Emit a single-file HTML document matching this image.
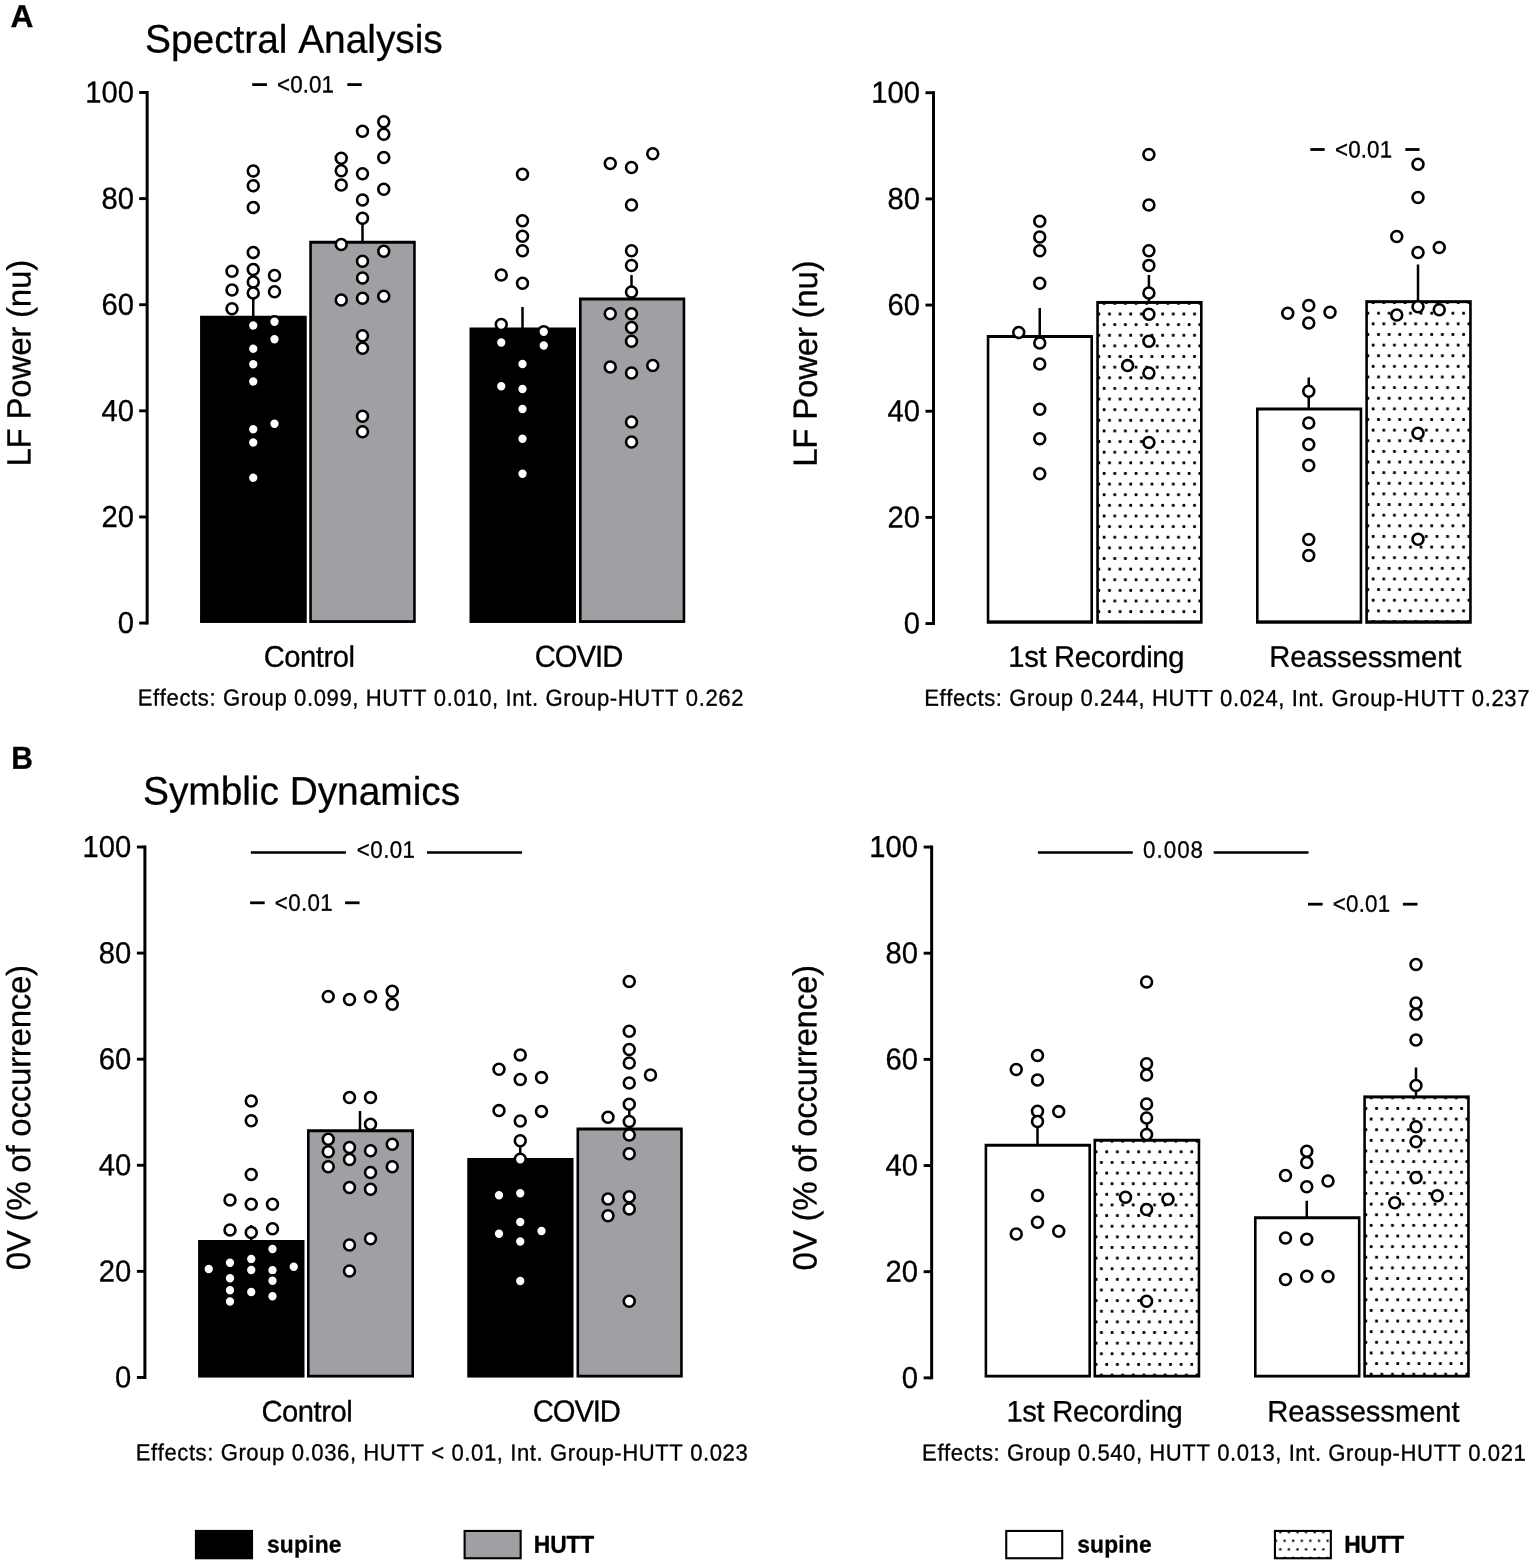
<!DOCTYPE html>
<html lang="en">
<head>
<meta charset="utf-8">
<title>Figure</title>
<style>html,body{margin:0;padding:0;background:#fff;overflow:hidden}svg{display:block}text{font-kerning:none;white-space:pre;text-rendering:geometricPrecision;stroke:#000;stroke-width:0.3px;stroke-linejoin:round}</style>
</head>
<body>
<svg width="1535" height="1565" viewBox="0 0 1535 1565" font-family='"Liberation Sans", Arial, Helvetica, sans-serif' fill="#000">
<defs><pattern id="p1" x="1096.25" y="300.95" width="10.63" height="21.26" patternUnits="userSpaceOnUse"><rect width="10.63" height="21.26" fill="#fff"/><rect x="6.50" y="1.05" width="2.8" height="2.8" rx="0.6" fill="#000"/><rect x="1.20" y="11.68" width="2.8" height="2.8" rx="0.6" fill="#000"/></pattern><pattern id="p2" x="1365.30" y="300.16" width="10.63" height="21.26" patternUnits="userSpaceOnUse"><rect width="10.63" height="21.26" fill="#fff"/><rect x="6.50" y="1.05" width="2.8" height="2.8" rx="0.6" fill="#000"/><rect x="1.20" y="11.68" width="2.8" height="2.8" rx="0.6" fill="#000"/></pattern><pattern id="p3" x="1093.50" y="1138.75" width="10.63" height="21.26" patternUnits="userSpaceOnUse"><rect width="10.63" height="21.26" fill="#fff"/><rect x="6.50" y="1.05" width="2.8" height="2.8" rx="0.6" fill="#000"/><rect x="1.20" y="11.68" width="2.8" height="2.8" rx="0.6" fill="#000"/></pattern><pattern id="p4" x="1363.30" y="1095.40" width="10.63" height="21.26" patternUnits="userSpaceOnUse"><rect width="10.63" height="21.26" fill="#fff"/><rect x="6.50" y="1.05" width="2.8" height="2.8" rx="0.6" fill="#000"/><rect x="1.20" y="11.68" width="2.8" height="2.8" rx="0.6" fill="#000"/></pattern><pattern id="p5" x="1273.90" y="1529.90" width="8.6" height="17.2" patternUnits="userSpaceOnUse"><rect width="8.6" height="17.2" fill="#fff"/><rect x="5.25" y="1.15" width="2.3" height="2.3" rx="0.6" fill="#000"/><rect x="0.95" y="9.75" width="2.3" height="2.3" rx="0.6" fill="#000"/></pattern></defs>
<text transform="translate(10.42,26.99) rotate(0.03) scale(1.04,1.041)" font-size="30.5" font-weight="bold">A</text>
<text transform="translate(11.14,768.80) rotate(0.03) scale(0.9838,1.041)" font-size="30.5" font-weight="bold">B</text>
<text transform="translate(145.05,52.62) rotate(0.03) scale(1,1.02)" font-size="38.9" letter-spacing="-0.035">Spectral Analysis</text>
<text transform="translate(142.98,804.52) rotate(0.03) scale(1,1.02)" font-size="38.9" letter-spacing="-0.037">Symblic Dynamics</text>
<line x1="147.15" y1="91.05" x2="147.15" y2="624.51" stroke="#000" stroke-width="3.0"/>
<line x1="139.15" y1="92.50" x2="147.15" y2="92.50" stroke="#000" stroke-width="2.9"/>
<text transform="translate(85.24,102.54) rotate(0.03) scale(1,1.041)" font-size="29.19">100</text>
<line x1="139.15" y1="198.61" x2="147.15" y2="198.61" stroke="#000" stroke-width="2.9"/>
<text transform="translate(101.47,208.65) rotate(0.03) scale(1,1.041)" font-size="29.19">80</text>
<line x1="139.15" y1="304.72" x2="147.15" y2="304.72" stroke="#000" stroke-width="2.9"/>
<text transform="translate(101.47,314.77) rotate(0.03) scale(1,1.041)" font-size="29.19">60</text>
<line x1="139.15" y1="410.84" x2="147.15" y2="410.84" stroke="#000" stroke-width="2.9"/>
<text transform="translate(101.47,420.88) rotate(0.03) scale(1,1.041)" font-size="29.19">40</text>
<line x1="139.15" y1="516.95" x2="147.15" y2="516.95" stroke="#000" stroke-width="2.9"/>
<text transform="translate(101.47,526.99) rotate(0.03) scale(1,1.041)" font-size="29.19">20</text>
<line x1="139.15" y1="623.06" x2="147.15" y2="623.06" stroke="#000" stroke-width="2.9"/>
<text transform="translate(117.71,633.11) rotate(0.03) scale(1,1.041)" font-size="29.19">0</text>
<text transform="translate(30.45,466.56) rotate(-89.97) scale(1,1.02)" font-size="33.0" letter-spacing="-0.196">LF Power (nu)</text>
<rect x="200.06" y="315.75" width="106.69" height="307.21" fill="#000"/>
<rect x="309.25" y="240.75" width="106.50" height="382.21" fill="#000"/>
<rect x="311.85" y="243.75" width="101.30" height="376.41" fill="#a0a0a4"/>
<rect x="469.50" y="327.50" width="106.50" height="295.46" fill="#000"/>
<rect x="579.00" y="297.50" width="106.25" height="325.46" fill="#000"/>
<rect x="581.60" y="300.50" width="101.05" height="319.66" fill="#a0a0a4"/>
<line x1="253.25" y1="296.00" x2="253.25" y2="317.00" stroke="#000" stroke-width="2.5"/>
<line x1="362.50" y1="222.00" x2="362.50" y2="242.00" stroke="#000" stroke-width="2.5"/>
<line x1="522.50" y1="307.00" x2="522.50" y2="329.00" stroke="#000" stroke-width="2.5"/>
<line x1="631.50" y1="275.00" x2="631.50" y2="299.00" stroke="#000" stroke-width="2.5"/>
<g fill="#fff" stroke="#000" stroke-width="2.6"><circle cx="253.25" cy="171.00" r="5.45"/><circle cx="253.25" cy="185.75" r="5.45"/><circle cx="253.25" cy="207.50" r="5.45"/><circle cx="253.25" cy="252.50" r="5.45"/><circle cx="253.25" cy="269.50" r="5.45"/><circle cx="253.25" cy="282.00" r="5.45"/><circle cx="253.25" cy="293.00" r="5.45"/><circle cx="253.25" cy="325.50" r="5.45"/><circle cx="253.25" cy="348.75" r="5.45"/><circle cx="253.25" cy="364.25" r="5.45"/><circle cx="253.25" cy="381.50" r="5.45"/><circle cx="253.25" cy="429.25" r="5.45"/><circle cx="253.25" cy="442.50" r="5.45"/><circle cx="253.25" cy="477.75" r="5.45"/><circle cx="232.00" cy="271.25" r="5.45"/><circle cx="232.00" cy="290.00" r="5.45"/><circle cx="232.00" cy="308.75" r="5.45"/><circle cx="274.50" cy="275.50" r="5.45"/><circle cx="274.50" cy="291.75" r="5.45"/><circle cx="274.50" cy="321.75" r="5.45"/><circle cx="274.50" cy="339.25" r="5.45"/><circle cx="274.50" cy="423.75" r="5.45"/><circle cx="362.50" cy="131.25" r="5.45"/><circle cx="362.50" cy="173.75" r="5.45"/><circle cx="362.50" cy="200.00" r="5.45"/><circle cx="362.50" cy="218.25" r="5.45"/><circle cx="362.50" cy="261.25" r="5.45"/><circle cx="362.50" cy="278.00" r="5.45"/><circle cx="362.50" cy="298.25" r="5.45"/><circle cx="362.50" cy="335.75" r="5.45"/><circle cx="362.50" cy="348.25" r="5.45"/><circle cx="362.50" cy="416.25" r="5.45"/><circle cx="362.50" cy="431.75" r="5.45"/><circle cx="341.25" cy="158.25" r="5.45"/><circle cx="341.25" cy="170.75" r="5.45"/><circle cx="341.25" cy="185.00" r="5.45"/><circle cx="341.25" cy="244.50" r="5.45"/><circle cx="341.25" cy="300.00" r="5.45"/><circle cx="383.75" cy="121.75" r="5.45"/><circle cx="383.75" cy="134.25" r="5.45"/><circle cx="383.75" cy="157.50" r="5.45"/><circle cx="383.75" cy="189.25" r="5.45"/><circle cx="383.75" cy="251.25" r="5.45"/><circle cx="383.75" cy="296.25" r="5.45"/><circle cx="522.50" cy="174.25" r="5.45"/><circle cx="522.50" cy="220.75" r="5.45"/><circle cx="522.50" cy="236.25" r="5.45"/><circle cx="522.50" cy="250.75" r="5.45"/><circle cx="522.50" cy="283.25" r="5.45"/><circle cx="522.50" cy="364.00" r="5.45"/><circle cx="522.50" cy="389.00" r="5.45"/><circle cx="522.50" cy="409.00" r="5.45"/><circle cx="522.50" cy="438.75" r="5.45"/><circle cx="522.50" cy="473.75" r="5.45"/><circle cx="501.25" cy="275.00" r="5.45"/><circle cx="501.25" cy="324.50" r="5.45"/><circle cx="501.25" cy="342.50" r="5.45"/><circle cx="501.25" cy="386.25" r="5.45"/><circle cx="543.75" cy="331.75" r="5.45"/><circle cx="543.75" cy="345.50" r="5.45"/><circle cx="631.50" cy="167.50" r="5.45"/><circle cx="631.50" cy="205.00" r="5.45"/><circle cx="631.50" cy="250.75" r="5.45"/><circle cx="631.50" cy="265.50" r="5.45"/><circle cx="631.50" cy="292.00" r="5.45"/><circle cx="631.50" cy="313.75" r="5.45"/><circle cx="631.50" cy="327.50" r="5.45"/><circle cx="631.50" cy="341.25" r="5.45"/><circle cx="631.50" cy="373.00" r="5.45"/><circle cx="631.50" cy="422.00" r="5.45"/><circle cx="631.50" cy="442.00" r="5.45"/><circle cx="610.25" cy="163.50" r="5.45"/><circle cx="610.25" cy="313.75" r="5.45"/><circle cx="610.25" cy="367.00" r="5.45"/><circle cx="652.75" cy="153.75" r="5.45"/><circle cx="652.75" cy="365.50" r="5.45"/></g>
<line x1="252.20" y1="84.60" x2="266.90" y2="84.60" stroke="#000" stroke-width="2.8"/>
<line x1="347.36" y1="84.60" x2="361.74" y2="84.60" stroke="#000" stroke-width="2.8"/>
<text transform="translate(277.09,92.39) rotate(0.03) scale(1,1.06)" font-size="22.3" letter-spacing="0.126">&lt;0.01</text>
<text transform="translate(263.65,666.68) rotate(0.03) scale(1,1.02)" font-size="29.19" letter-spacing="-0.457">Control</text>
<text transform="translate(534.67,666.68) rotate(0.03) scale(1,1.041)" font-size="29.19" letter-spacing="-0.966">COVID</text>
<text transform="translate(137.74,705.54) rotate(0.03) scale(1,1.05)" font-size="22.1" letter-spacing="0.598">Effects: Group 0.099, HUTT 0.010, Int. Group-HUTT 0.262</text>
<line x1="933.50" y1="91.28" x2="933.50" y2="625.00" stroke="#000" stroke-width="3.0"/>
<line x1="925.50" y1="92.73" x2="933.50" y2="92.73" stroke="#000" stroke-width="2.9"/>
<text transform="translate(871.19,102.77) rotate(0.03) scale(1,1.041)" font-size="29.19">100</text>
<line x1="925.50" y1="198.89" x2="933.50" y2="198.89" stroke="#000" stroke-width="2.9"/>
<text transform="translate(887.42,208.94) rotate(0.03) scale(1,1.041)" font-size="29.19">80</text>
<line x1="925.50" y1="305.06" x2="933.50" y2="305.06" stroke="#000" stroke-width="2.9"/>
<text transform="translate(887.42,315.10) rotate(0.03) scale(1,1.041)" font-size="29.19">60</text>
<line x1="925.50" y1="411.22" x2="933.50" y2="411.22" stroke="#000" stroke-width="2.9"/>
<text transform="translate(887.42,421.26) rotate(0.03) scale(1,1.041)" font-size="29.19">40</text>
<line x1="925.50" y1="517.39" x2="933.50" y2="517.39" stroke="#000" stroke-width="2.9"/>
<text transform="translate(887.42,527.43) rotate(0.03) scale(1,1.041)" font-size="29.19">20</text>
<line x1="925.50" y1="623.55" x2="933.50" y2="623.55" stroke="#000" stroke-width="2.9"/>
<text transform="translate(903.66,633.60) rotate(0.03) scale(1,1.041)" font-size="29.19">0</text>
<text transform="translate(816.85,466.76) rotate(-89.97) scale(1,1.02)" font-size="33.0" letter-spacing="-0.226">LF Power (nu)</text>
<rect x="986.75" y="335.00" width="106.25" height="288.75" fill="#000"/>
<rect x="989.35" y="338.00" width="101.05" height="282.35" fill="#fff"/>
<rect x="1096.25" y="300.95" width="106.35" height="322.80" fill="#000"/>
<rect x="1098.85" y="303.95" width="101.15" height="316.40" fill="url(#p1)"/>
<rect x="1256.00" y="407.50" width="106.25" height="216.25" fill="#000"/>
<rect x="1258.60" y="410.50" width="101.05" height="209.85" fill="#fff"/>
<rect x="1365.30" y="300.16" width="106.45" height="323.59" fill="#000"/>
<rect x="1367.90" y="303.16" width="101.25" height="317.19" fill="url(#p2)"/>
<line x1="1039.75" y1="308.00" x2="1039.75" y2="336.00" stroke="#000" stroke-width="2.5"/>
<line x1="1148.90" y1="275.00" x2="1148.90" y2="302.00" stroke="#000" stroke-width="2.5"/>
<line x1="1308.75" y1="377.50" x2="1308.75" y2="409.00" stroke="#000" stroke-width="2.5"/>
<line x1="1418.00" y1="264.50" x2="1418.00" y2="301.00" stroke="#000" stroke-width="2.5"/>
<g fill="#fff" stroke="#000" stroke-width="2.6"><circle cx="1039.75" cy="221.25" r="5.45"/><circle cx="1039.75" cy="237.00" r="5.45"/><circle cx="1039.75" cy="250.75" r="5.45"/><circle cx="1039.75" cy="283.25" r="5.45"/><circle cx="1039.75" cy="343.00" r="5.45"/><circle cx="1039.75" cy="364.00" r="5.45"/><circle cx="1039.75" cy="409.25" r="5.45"/><circle cx="1039.75" cy="438.75" r="5.45"/><circle cx="1039.75" cy="473.75" r="5.45"/><circle cx="1018.75" cy="332.50" r="5.45"/><circle cx="1148.90" cy="154.50" r="5.45"/><circle cx="1148.90" cy="205.00" r="5.45"/><circle cx="1148.90" cy="250.75" r="5.45"/><circle cx="1148.90" cy="265.50" r="5.45"/><circle cx="1148.90" cy="293.00" r="5.45"/><circle cx="1148.90" cy="314.24" r="5.45"/><circle cx="1148.90" cy="341.25" r="5.45"/><circle cx="1148.90" cy="373.00" r="5.45"/><circle cx="1148.90" cy="442.50" r="5.45"/><circle cx="1127.60" cy="365.60" r="5.45"/><circle cx="1308.75" cy="305.50" r="5.45"/><circle cx="1308.75" cy="323.00" r="5.45"/><circle cx="1308.75" cy="391.25" r="5.45"/><circle cx="1308.75" cy="423.00" r="5.45"/><circle cx="1308.75" cy="444.50" r="5.45"/><circle cx="1308.75" cy="465.50" r="5.45"/><circle cx="1308.75" cy="539.50" r="5.45"/><circle cx="1308.75" cy="555.50" r="5.45"/><circle cx="1287.75" cy="313.25" r="5.45"/><circle cx="1330.00" cy="312.25" r="5.45"/><circle cx="1418.00" cy="164.25" r="5.45"/><circle cx="1418.00" cy="197.50" r="5.45"/><circle cx="1418.00" cy="252.50" r="5.45"/><circle cx="1418.00" cy="306.75" r="5.45"/><circle cx="1418.00" cy="433.25" r="5.45"/><circle cx="1418.00" cy="539.25" r="5.45"/><circle cx="1396.75" cy="236.50" r="5.45"/><circle cx="1396.75" cy="315.00" r="5.45"/><circle cx="1439.25" cy="247.50" r="5.45"/><circle cx="1439.25" cy="309.75" r="5.45"/></g>
<line x1="1310.30" y1="149.50" x2="1324.70" y2="149.50" stroke="#000" stroke-width="2.8"/>
<line x1="1405.30" y1="149.50" x2="1419.56" y2="149.50" stroke="#000" stroke-width="2.8"/>
<text transform="translate(1335.01,157.39) rotate(0.03) scale(1,1.06)" font-size="22.3" letter-spacing="0.151">&lt;0.01</text>
<text transform="translate(1008.33,666.85) rotate(0.03) scale(1,1.02)" font-size="29.19" letter-spacing="-0.325">1st Recording</text>
<text transform="translate(1269.26,666.85) rotate(0.03) scale(1,1.02)" font-size="29.19" letter-spacing="-0.082">Reassessment</text>
<text transform="translate(924.18,705.74) rotate(0.03) scale(1,1.05)" font-size="22.1" letter-spacing="0.590">Effects: Group 0.244, HUTT 0.024, Int. Group-HUTT 0.237</text>
<line x1="144.90" y1="845.55" x2="144.90" y2="1378.90" stroke="#000" stroke-width="3.0"/>
<line x1="136.90" y1="847.00" x2="144.90" y2="847.00" stroke="#000" stroke-width="2.9"/>
<text transform="translate(82.49,857.04) rotate(0.03) scale(1,1.041)" font-size="29.19">100</text>
<line x1="136.90" y1="953.09" x2="144.90" y2="953.09" stroke="#000" stroke-width="2.9"/>
<text transform="translate(98.72,963.13) rotate(0.03) scale(1,1.041)" font-size="29.19">80</text>
<line x1="136.90" y1="1059.18" x2="144.90" y2="1059.18" stroke="#000" stroke-width="2.9"/>
<text transform="translate(98.72,1069.22) rotate(0.03) scale(1,1.041)" font-size="29.19">60</text>
<line x1="136.90" y1="1165.27" x2="144.90" y2="1165.27" stroke="#000" stroke-width="2.9"/>
<text transform="translate(98.72,1175.31) rotate(0.03) scale(1,1.041)" font-size="29.19">40</text>
<line x1="136.90" y1="1271.36" x2="144.90" y2="1271.36" stroke="#000" stroke-width="2.9"/>
<text transform="translate(98.72,1281.40) rotate(0.03) scale(1,1.041)" font-size="29.19">20</text>
<line x1="136.90" y1="1377.45" x2="144.90" y2="1377.45" stroke="#000" stroke-width="2.9"/>
<text transform="translate(114.96,1387.50) rotate(0.03) scale(1,1.041)" font-size="29.19">0</text>
<text transform="translate(30.12,1270.24) rotate(-89.97) scale(1,1.02)" font-size="33.0" letter-spacing="-0.243">0V (% of occurrence)</text>
<rect x="198.10" y="1240.00" width="106.40" height="137.55" fill="#000"/>
<rect x="307.00" y="1129.25" width="107.00" height="248.30" fill="#000"/>
<rect x="309.60" y="1132.25" width="101.80" height="242.50" fill="#a0a0a4"/>
<rect x="467.25" y="1158.00" width="106.25" height="219.55" fill="#000"/>
<rect x="576.50" y="1127.50" width="106.25" height="250.05" fill="#000"/>
<rect x="579.10" y="1130.50" width="101.05" height="244.25" fill="#a0a0a4"/>
<line x1="251.25" y1="1225.00" x2="251.25" y2="1241.00" stroke="#000" stroke-width="2.5"/>
<line x1="360.00" y1="1111.00" x2="360.00" y2="1131.00" stroke="#000" stroke-width="2.5"/>
<line x1="520.25" y1="1145.00" x2="520.25" y2="1160.00" stroke="#000" stroke-width="2.5"/>
<line x1="629.25" y1="1110.00" x2="629.25" y2="1129.00" stroke="#000" stroke-width="2.5"/>
<g fill="#fff" stroke="#000" stroke-width="2.6"><circle cx="251.25" cy="1101.00" r="5.45"/><circle cx="251.25" cy="1120.75" r="5.45"/><circle cx="251.25" cy="1174.50" r="5.45"/><circle cx="251.25" cy="1204.25" r="5.45"/><circle cx="251.25" cy="1232.50" r="5.45"/><circle cx="251.25" cy="1259.00" r="5.45"/><circle cx="251.25" cy="1270.00" r="5.45"/><circle cx="251.25" cy="1292.00" r="5.45"/><circle cx="230.00" cy="1200.00" r="5.45"/><circle cx="230.00" cy="1230.00" r="5.45"/><circle cx="230.00" cy="1262.75" r="5.45"/><circle cx="230.00" cy="1278.25" r="5.45"/><circle cx="230.00" cy="1290.25" r="5.45"/><circle cx="230.00" cy="1301.50" r="5.45"/><circle cx="272.50" cy="1204.25" r="5.45"/><circle cx="272.50" cy="1228.75" r="5.45"/><circle cx="272.50" cy="1249.00" r="5.45"/><circle cx="272.50" cy="1270.25" r="5.45"/><circle cx="272.50" cy="1280.75" r="5.45"/><circle cx="272.50" cy="1296.25" r="5.45"/><circle cx="208.75" cy="1269.00" r="5.45"/><circle cx="293.75" cy="1266.75" r="5.45"/><circle cx="349.50" cy="999.50" r="5.45"/><circle cx="349.50" cy="1097.50" r="5.45"/><circle cx="349.50" cy="1147.50" r="5.45"/><circle cx="349.50" cy="1159.50" r="5.45"/><circle cx="349.50" cy="1187.50" r="5.45"/><circle cx="349.50" cy="1245.00" r="5.45"/><circle cx="349.50" cy="1271.00" r="5.45"/><circle cx="328.25" cy="996.50" r="5.45"/><circle cx="328.25" cy="1139.25" r="5.45"/><circle cx="328.25" cy="1151.75" r="5.45"/><circle cx="328.25" cy="1166.75" r="5.45"/><circle cx="370.50" cy="996.75" r="5.45"/><circle cx="370.50" cy="1097.50" r="5.45"/><circle cx="370.50" cy="1124.25" r="5.45"/><circle cx="370.50" cy="1150.75" r="5.45"/><circle cx="370.50" cy="1172.50" r="5.45"/><circle cx="370.50" cy="1189.25" r="5.45"/><circle cx="370.50" cy="1238.75" r="5.45"/><circle cx="392.25" cy="991.25" r="5.45"/><circle cx="392.25" cy="1004.25" r="5.45"/><circle cx="392.25" cy="1144.25" r="5.45"/><circle cx="392.25" cy="1166.75" r="5.45"/><circle cx="520.25" cy="1055.00" r="5.45"/><circle cx="520.25" cy="1079.50" r="5.45"/><circle cx="520.25" cy="1121.00" r="5.45"/><circle cx="520.25" cy="1140.75" r="5.45"/><circle cx="520.25" cy="1159.25" r="5.45"/><circle cx="520.25" cy="1193.25" r="5.45"/><circle cx="520.25" cy="1222.00" r="5.45"/><circle cx="520.25" cy="1241.50" r="5.45"/><circle cx="520.25" cy="1281.00" r="5.45"/><circle cx="499.00" cy="1069.25" r="5.45"/><circle cx="499.00" cy="1110.60" r="5.45"/><circle cx="499.00" cy="1195.25" r="5.45"/><circle cx="499.00" cy="1233.75" r="5.45"/><circle cx="541.50" cy="1077.50" r="5.45"/><circle cx="541.50" cy="1111.40" r="5.45"/><circle cx="541.50" cy="1231.00" r="5.45"/><circle cx="629.25" cy="981.50" r="5.45"/><circle cx="629.25" cy="1031.25" r="5.45"/><circle cx="629.25" cy="1049.50" r="5.45"/><circle cx="629.25" cy="1063.00" r="5.45"/><circle cx="629.25" cy="1083.00" r="5.45"/><circle cx="629.25" cy="1104.25" r="5.45"/><circle cx="629.25" cy="1121.50" r="5.45"/><circle cx="629.25" cy="1135.00" r="5.45"/><circle cx="629.25" cy="1153.75" r="5.45"/><circle cx="629.25" cy="1196.75" r="5.45"/><circle cx="629.25" cy="1209.00" r="5.45"/><circle cx="629.25" cy="1301.25" r="5.45"/><circle cx="650.50" cy="1075.00" r="5.45"/><circle cx="608.00" cy="1117.25" r="5.45"/><circle cx="608.00" cy="1199.00" r="5.45"/><circle cx="608.00" cy="1215.75" r="5.45"/></g>
<line x1="250.84" y1="852.50" x2="345.90" y2="852.50" stroke="#000" stroke-width="2.7"/>
<line x1="426.99" y1="852.50" x2="522.05" y2="852.50" stroke="#000" stroke-width="2.7"/>
<text transform="translate(356.83,857.79) rotate(0.03) scale(1,1.06)" font-size="22.3" letter-spacing="0.438">&lt;0.01</text>
<line x1="250.10" y1="902.80" x2="264.70" y2="902.80" stroke="#000" stroke-width="2.8"/>
<line x1="345.07" y1="902.80" x2="359.55" y2="902.80" stroke="#000" stroke-width="2.8"/>
<text transform="translate(274.80,910.69) rotate(0.03) scale(1,1.06)" font-size="22.3" letter-spacing="0.328">&lt;0.01</text>
<text transform="translate(261.44,1421.38) rotate(0.03) scale(1,1.02)" font-size="29.19" letter-spacing="-0.459">Control</text>
<text transform="translate(532.74,1421.38) rotate(0.03) scale(1,1.041)" font-size="29.19" letter-spacing="-1.066">COVID</text>
<text transform="translate(135.64,1460.24) rotate(0.03) scale(1,1.05)" font-size="22.1" letter-spacing="0.580">Effects: Group 0.036, HUTT &lt; 0.01, Int. Group-HUTT 0.023</text>
<line x1="931.65" y1="845.60" x2="931.65" y2="1379.30" stroke="#000" stroke-width="3.0"/>
<line x1="923.65" y1="847.05" x2="931.65" y2="847.05" stroke="#000" stroke-width="2.9"/>
<text transform="translate(869.34,857.09) rotate(0.03) scale(1,1.041)" font-size="29.19">100</text>
<line x1="923.65" y1="953.21" x2="931.65" y2="953.21" stroke="#000" stroke-width="2.9"/>
<text transform="translate(885.57,963.25) rotate(0.03) scale(1,1.041)" font-size="29.19">80</text>
<line x1="923.65" y1="1059.37" x2="931.65" y2="1059.37" stroke="#000" stroke-width="2.9"/>
<text transform="translate(885.57,1069.41) rotate(0.03) scale(1,1.041)" font-size="29.19">60</text>
<line x1="923.65" y1="1165.53" x2="931.65" y2="1165.53" stroke="#000" stroke-width="2.9"/>
<text transform="translate(885.57,1175.57) rotate(0.03) scale(1,1.041)" font-size="29.19">40</text>
<line x1="923.65" y1="1271.69" x2="931.65" y2="1271.69" stroke="#000" stroke-width="2.9"/>
<text transform="translate(885.57,1281.73) rotate(0.03) scale(1,1.041)" font-size="29.19">20</text>
<line x1="923.65" y1="1377.85" x2="931.65" y2="1377.85" stroke="#000" stroke-width="2.9"/>
<text transform="translate(901.81,1387.90) rotate(0.03) scale(1,1.041)" font-size="29.19">0</text>
<text transform="translate(816.42,1270.44) rotate(-89.97) scale(1,1.02)" font-size="33.0" letter-spacing="-0.233">0V (% of occurrence)</text>
<rect x="984.60" y="1143.75" width="106.40" height="233.80" fill="#000"/>
<rect x="987.20" y="1146.75" width="101.20" height="228.00" fill="#fff"/>
<rect x="1093.50" y="1138.75" width="106.75" height="238.80" fill="#000"/>
<rect x="1096.10" y="1141.75" width="101.55" height="233.00" fill="url(#p3)"/>
<rect x="1254.00" y="1216.25" width="106.50" height="161.30" fill="#000"/>
<rect x="1256.60" y="1219.25" width="101.30" height="155.50" fill="#fff"/>
<rect x="1363.30" y="1095.40" width="106.45" height="282.15" fill="#000"/>
<rect x="1365.90" y="1098.40" width="101.25" height="276.35" fill="url(#p4)"/>
<line x1="1037.50" y1="1125.00" x2="1037.50" y2="1145.00" stroke="#000" stroke-width="2.5"/>
<line x1="1147.00" y1="1120.00" x2="1147.00" y2="1140.00" stroke="#000" stroke-width="2.5"/>
<line x1="1306.75" y1="1200.75" x2="1306.75" y2="1218.00" stroke="#000" stroke-width="2.5"/>
<line x1="1416.00" y1="1067.50" x2="1416.00" y2="1097.00" stroke="#000" stroke-width="2.5"/>
<g fill="#fff" stroke="#000" stroke-width="2.6"><circle cx="1037.50" cy="1055.50" r="5.45"/><circle cx="1037.50" cy="1080.00" r="5.45"/><circle cx="1037.50" cy="1111.25" r="5.45"/><circle cx="1037.50" cy="1121.50" r="5.45"/><circle cx="1037.50" cy="1195.50" r="5.45"/><circle cx="1037.50" cy="1222.25" r="5.45"/><circle cx="1016.25" cy="1069.50" r="5.45"/><circle cx="1016.25" cy="1234.00" r="5.45"/><circle cx="1058.75" cy="1111.60" r="5.45"/><circle cx="1058.75" cy="1231.25" r="5.45"/><circle cx="1146.60" cy="982.00" r="5.45"/><circle cx="1146.60" cy="1063.75" r="5.45"/><circle cx="1146.60" cy="1075.00" r="5.45"/><circle cx="1146.60" cy="1104.00" r="5.45"/><circle cx="1146.60" cy="1118.00" r="5.45"/><circle cx="1146.60" cy="1134.50" r="5.45"/><circle cx="1146.60" cy="1209.50" r="5.45"/><circle cx="1146.60" cy="1301.25" r="5.45"/><circle cx="1125.50" cy="1197.25" r="5.45"/><circle cx="1168.00" cy="1199.25" r="5.45"/><circle cx="1306.75" cy="1151.25" r="5.45"/><circle cx="1306.75" cy="1162.50" r="5.45"/><circle cx="1306.75" cy="1186.75" r="5.45"/><circle cx="1306.75" cy="1239.25" r="5.45"/><circle cx="1306.75" cy="1276.25" r="5.45"/><circle cx="1285.50" cy="1175.50" r="5.45"/><circle cx="1285.50" cy="1238.00" r="5.45"/><circle cx="1285.50" cy="1279.50" r="5.45"/><circle cx="1328.00" cy="1181.00" r="5.45"/><circle cx="1328.00" cy="1276.50" r="5.45"/><circle cx="1416.00" cy="964.50" r="5.45"/><circle cx="1416.00" cy="1003.00" r="5.45"/><circle cx="1416.00" cy="1014.25" r="5.45"/><circle cx="1416.00" cy="1040.00" r="5.45"/><circle cx="1416.00" cy="1085.50" r="5.45"/><circle cx="1416.00" cy="1126.75" r="5.45"/><circle cx="1416.00" cy="1141.75" r="5.45"/><circle cx="1416.00" cy="1177.50" r="5.45"/><circle cx="1394.75" cy="1202.75" r="5.45"/><circle cx="1437.25" cy="1195.75" r="5.45"/></g>
<line x1="1037.90" y1="852.50" x2="1132.80" y2="852.50" stroke="#000" stroke-width="2.7"/>
<line x1="1213.66" y1="852.50" x2="1308.50" y2="852.50" stroke="#000" stroke-width="2.7"/>
<text transform="translate(1143.08,857.78) rotate(0.03) scale(1,1.06)" font-size="22.3" letter-spacing="1.034">0.008</text>
<line x1="1308.03" y1="904.20" x2="1322.62" y2="904.20" stroke="#000" stroke-width="2.8"/>
<line x1="1402.90" y1="904.20" x2="1417.50" y2="904.20" stroke="#000" stroke-width="2.8"/>
<text transform="translate(1332.82,911.79) rotate(0.03) scale(1,1.06)" font-size="22.3" letter-spacing="0.203">&lt;0.01</text>
<text transform="translate(1006.40,1421.55) rotate(0.03) scale(1,1.02)" font-size="29.19" letter-spacing="-0.305">1st Recording</text>
<text transform="translate(1267.32,1421.55) rotate(0.03) scale(1,1.02)" font-size="29.19" letter-spacing="-0.073">Reassessment</text>
<text transform="translate(922.10,1460.44) rotate(0.03) scale(1,1.05)" font-size="22.1" letter-spacing="0.560">Effects: Group 0.540, HUTT 0.013, Int. Group-HUTT 0.021</text>
<rect x="194.90" y="1529.9" width="58.16" height="29.40" fill="#000"/>
<rect x="464.60" y="1530.95" width="56.05" height="27.30" fill="#a0a0a4" stroke="#000" stroke-width="2.1"/>
<rect x="1006.25" y="1530.95" width="55.97" height="27.30" fill="#fff" stroke="#000" stroke-width="2.1"/>
<rect x="1274.95" y="1530.95" width="55.90" height="27.30" fill="url(#p5)" stroke="#000" stroke-width="2.1"/>
<text transform="translate(266.90,1552.58) rotate(0.03) scale(1,1.05)" font-size="22.8" font-weight="bold" letter-spacing="0.217">supine</text>
<text transform="translate(533.86,1552.78) rotate(0.03) scale(1,1.075)" font-size="22.8" font-weight="bold" letter-spacing="-0.162">HUTT</text>
<text transform="translate(1077.21,1552.58) rotate(0.03) scale(1,1.05)" font-size="22.8" font-weight="bold" letter-spacing="0.195">supine</text>
<text transform="translate(1344.32,1552.78) rotate(0.03) scale(1,1.075)" font-size="22.8" font-weight="bold" letter-spacing="-0.305">HUTT</text>
</svg>
</body>
</html>
